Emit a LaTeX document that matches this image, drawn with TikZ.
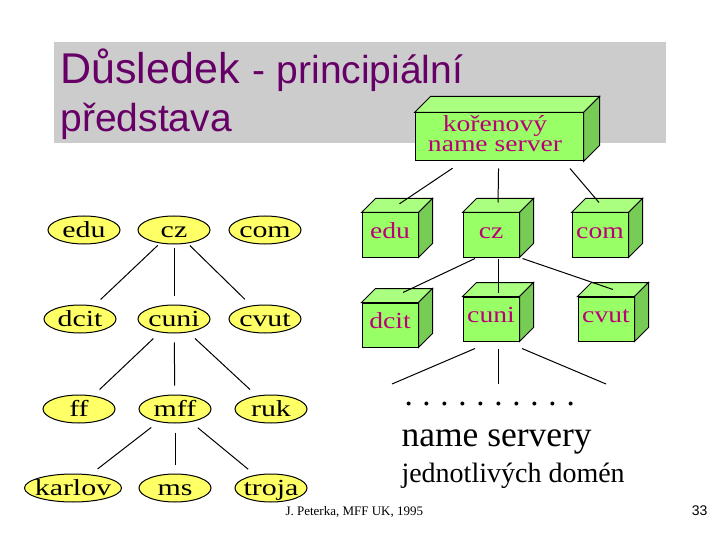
\documentclass[tikz,border=0pt]{standalone}
\usepackage{fontspec}
\setmainfont{Liberation Serif}
\setsansfont{Liberation Sans}
\newfontfamily\domfont[FakeStretch=1.3]{Liberation Serif}
\newfontfamily\srvfont[FakeStretch=1.2]{Liberation Serif}
\usetikzlibrary{calc, shapes.geometric}

\definecolor{titlegray}{HTML}{CCCCCC}
\definecolor{titlepurple}{HTML}{660066}
\definecolor{domyellow}{HTML}{FFFF66}
\definecolor{boxfront}{HTML}{99FF66}
\definecolor{boxtop}{HTML}{AAFF80}
\definecolor{boxside}{HTML}{77CC55}
\definecolor{boxtext}{HTML}{BB0077}

\newcommand{\fsz}[1]{\fontsize{#1}{#1}\selectfont}

\begin{document}
\begin{tikzpicture}[x=1pt, y=-1pt, line width=1pt,
  domnode/.style={ellipse, draw, fill=domyellow, inner ysep=0pt, inner xsep=-12pt,
                  minimum width=72pt, minimum height=28pt, font=\domfont\fsz{23},
                  text height=14pt, text depth=0pt},
  server/.style={rectangle, draw, fill=boxfront, inner sep=0pt,
                 minimum width=56pt, minimum height=44pt, text=boxtext,
                 font=\srvfont\fsz{23}, text height=18pt, text depth=11pt},
  rootsrv/.style={rectangle, draw, fill=boxfront, inner sep=0pt,
                  minimum width=168pt, minimum height=48pt},
  txt/.style={anchor=base west, inner sep=0pt},
  link/.style={line width=1pt}
]
  \useasboundingbox (0,0) rectangle (720,540);

  % title bar
  \fill[titlegray] (54,42) rectangle (666,143);
  \node[txt, text=titlepurple, font=\sffamily] (title1) at (60,84)
    {\fsz{43}Důsledek\hspace{13pt}{\fsz{39}-\hspace{11pt}principiální}};
  \node[txt, text=titlepurple, font=\sffamily\fsz{39}] (title2) at (60,132) {představa};

  % left: domain tree
  \node[domnode] (edu)    at (84,230)  {edu};
  \node[domnode] (cz)     at (174,230) {cz};
  \node[domnode] (com)    at (265,230) {com};
  \node[domnode] (dcit)   at (80,319)  {dcit};
  \node[domnode] (cuni)   at (174,319) {cuni};
  \node[domnode] (cvut)   at (265,319) {cvut};
  \node[domnode] (ff)     at (79,409)  {ff};
  \node[domnode] (mff)    at (175,409) {mff};
  \node[domnode] (ruk)    at (271,409) {ruk};
  \node[domnode, minimum width=97pt] (karlov) at (73,488) {karlov};
  \node[domnode] (ms)     at (175,488) {ms};
  \node[domnode] (troja)  at (271,488) {troja};

  \foreach \a/\b in {cz/dcit, cz/cuni, cz/cvut}
    \draw[link, shorten <=3pt, shorten >=9pt] (\a) -- (\b);
  \foreach \a/\b in {cuni/ff, cuni/mff, cuni/ruk, mff/karlov, mff/ms, mff/troja}
    \draw[link, shorten <=9pt, shorten >=9pt] (\a) -- (\b);

  % right: name servers
  \node[rootsrv] (root) at (499,137) {};
  \node[server] (redu)  at (390,235) {edu};
  \node[server] (rcz)   at (491,235) {cz};
  \node[server] (rcom)  at (600,235) {com};
  \node[server] (rdcit) at (390,325) {dcit};
  \node[server] (rcuni) at (491,319) {cuni};
  \node[server] (rcvut) at (606,319) {cvut};

  \foreach \n/\d in {root/16, redu/14, rcz/14, rcom/14, rdcit/14, rcuni/14, rcvut/14} {
    \filldraw[fill=boxtop] (\n.north west) -- ++(\d,-\d)
      -- ($(\n.north east)+(\d,-\d)$) -- (\n.north east) -- cycle;
    \filldraw[fill=boxside] (\n.north east) -- ++(\d,-\d)
      -- ($(\n.south east)+(\d,-\d)$) -- (\n.south east) -- cycle;
  }
  \node[text=boxtext, align=center, inner sep=0pt, font=\srvfont\fontsize{23}{20}\selectfont]
    (rootlabel) at ([xshift=-4pt,yshift=3pt]root.center) {kořenový\\name server};

  \foreach \n in {redu, rcz, rcom, rdcit, rcuni, rcvut}
    \coordinate (\n-t) at ($(\n.north)+(7,-7)$);

  \draw[link, shorten <=12pt, shorten >=3pt] (root) -- (redu-t);
  \draw[link, shorten <=7pt, shorten >=3pt] (root) -- (rcz-t);
  \draw[link] ([xshift=71pt,yshift=-7pt]root.south) -- ([xshift=-8pt,yshift=3pt]rcom-t);
  \draw[link] ([xshift=-16pt,yshift=-1pt]rcz.south) -- ([xshift=6pt,yshift=3pt]rdcit-t);
  \draw[link] ([xshift=7pt,yshift=-1pt]rcz.south) -- ([yshift=-3pt]rcuni-t);
  \draw[link] ([xshift=3pt,yshift=-1pt]rcz.south east) -- (rcvut-t);

  % lower levels
  \coordinate (sub-l) at (392,384);
  \coordinate (sub-m) at (498,384);
  \coordinate (sub-r) at (606,384);
  \draw[link] ([xshift=-16pt,yshift=-7pt]rcuni.south) -- (sub-l);
  \draw[link] ([xshift=7pt,yshift=-7pt]rcuni.south) -- (sub-m);
  \draw[link] ([xshift=31pt,yshift=-7pt]rcuni.south) -- (sub-r);

  \node[txt, font=\fsz{33}] (dots) at (404,405)
    {\spaceskip=9.75pt\xspaceskip=9.75pt . . . . . . . . . .};
  \node[txt, font=\fsz{35.5}] (names) at (401,446) {name servery};
  \node[txt, font=\fsz{28}] (domains) at (401,482) {jednotlivých domén};

  % footer
  \node[txt, font=\fsz{13}] (author) at (285,515) {J. Peterka, MFF UK, 1995};
  \node[anchor=base east, inner sep=0pt, font=\sffamily\fsz{14}] (page) at (708,515) {33};
\end{tikzpicture}
\end{document}
